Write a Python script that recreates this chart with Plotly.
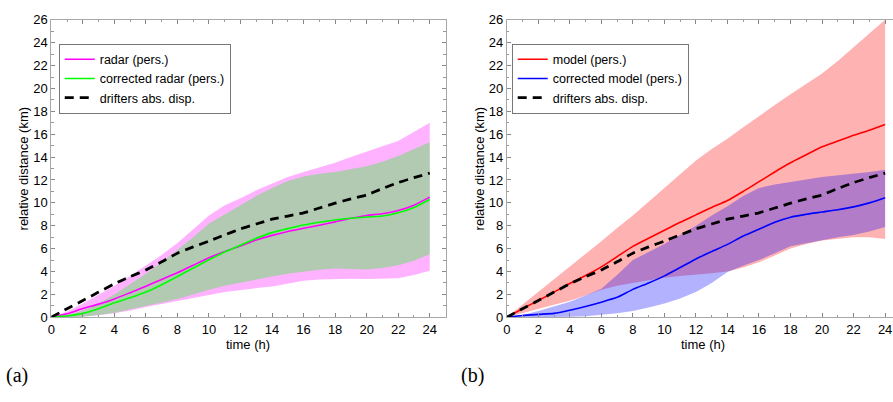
import plotly.graph_objects as go

# ---------------- data ----------------
time_h = list(range(25))

drifters = [0, 0.75, 1.46, 2.2, 2.92, 3.55, 4.13, 4.85, 5.6, 6.15, 6.66, 7.2, 7.72,
            8.15, 8.57, 8.85, 9.13, 9.55, 9.97, 10.35, 10.7, 11.25, 11.77, 12.2, 12.6]

# panel (a)
radar_mean = [0, 0.3, 0.76, 1.15, 1.6, 2.15, 2.72, 3.3, 3.9, 4.55, 5.2, 5.75, 6.24,
              6.75, 7.16, 7.5, 7.78, 8.05, 8.34, 8.65, 8.9, 9.05, 9.33, 9.8, 10.5]
radar_upper = [0, 0.5, 1.2, 1.95, 2.75, 3.6, 4.5, 5.45, 6.5, 7.7, 8.9, 9.8, 10.4,
               11.1, 11.7, 12.25, 12.7, 13.1, 13.5, 14.0, 14.5, 14.95, 15.4, 16.2, 17.0]
radar_lower = [0, 0, 0.05, 0.18, 0.35, 0.6, 0.9, 1.15, 1.46, 1.7, 1.95, 2.2, 2.4,
               2.55, 2.7, 2.95, 3.2, 3.3, 3.34, 3.36, 3.34, 3.36, 3.4, 3.7, 4.07]
corr_radar_mean = [0, 0.12, 0.34, 0.75, 1.26, 1.7, 2.2, 2.85, 3.57, 4.3, 5.03, 5.7, 6.3,
                   6.9, 7.4, 7.75, 8.06, 8.3, 8.5, 8.65, 8.76, 8.85, 9.13, 9.6, 10.3]
corr_radar_upper = [0, 0.2, 0.6, 1.2, 2.0, 2.9, 3.8, 4.8, 5.9, 7.0, 8.2, 9.0, 9.75,
                    10.6, 11.3, 11.9, 12.3, 12.55, 12.7, 12.95, 13.2, 13.6, 14.1, 14.7, 15.3]
corr_radar_lower = [0, 0, 0.05, 0.2, 0.4, 0.7, 1.0, 1.3, 1.6, 2.0, 2.4, 2.75, 3.05,
                    3.3, 3.56, 3.8, 3.98, 4.15, 4.26, 4.22, 4.18, 4.3, 4.55, 4.95, 5.5]

# panel (b)
model_mean = [0, 0.75, 1.46, 2.2, 2.95, 3.65, 4.4, 5.3, 6.2, 6.9, 7.6, 8.3, 8.95,
              9.6, 10.2, 11.0, 11.85, 12.7, 13.5, 14.2, 14.9, 15.4, 15.9, 16.35, 16.85]
model_upper = [0, 1.1, 2.2, 3.3, 4.4, 5.5, 6.65, 7.8, 8.9, 10.1, 11.3, 12.5, 13.7,
               14.7, 15.6, 16.6, 17.6, 18.55, 19.5, 20.4, 21.3, 22.4, 23.6, 24.8, 26.0]
model_lower = [0, 0.35, 0.75, 1.1, 1.45, 1.9, 2.4, 2.75, 3.0, 3.25, 3.45, 3.6, 3.75,
               3.85, 4.0, 4.35, 4.8, 5.4, 6.0, 6.4, 6.7, 6.85, 7.0, 7.0, 6.85]
corr_model_mean = [0, 0.15, 0.25, 0.34, 0.62, 0.95, 1.32, 1.74, 2.44, 3.0, 3.62, 4.35, 5.1,
                   5.75, 6.37, 7.1, 7.7, 8.3, 8.75, 9.0, 9.2, 9.4, 9.65, 10.0, 10.45]
corr_model_upper = [0, 0.2, 0.55, 0.95, 1.35, 1.9, 2.5, 3.7, 5.0, 5.7, 6.4, 7.2, 8.0,
                    8.9, 9.7, 10.6, 11.3, 11.6, 11.85, 12.05, 12.25, 12.4, 12.5, 12.7, 12.9]
corr_model_lower = [0, 0, 0, 0, 0.05, 0.1, 0.2, 0.35, 0.55, 0.85, 1.2, 1.65, 2.2,
                    3.0, 3.95, 4.5, 5.0, 5.6, 6.2, 6.5, 6.75, 7.0, 7.2, 7.5, 7.9]

x_ticks = list(range(0, 25, 2))
y_ticks = list(range(0, 27, 2))

# ---------------- figure ----------------
W, H = 893, 402
FONT = "Liberation Sans, Arial, sans-serif"
fig = go.Figure()


def band(xa, ya, upper, lower, color):
    fig.add_trace(go.Scatter(
        x=time_h + time_h[::-1], y=upper + lower[::-1], fill="toself",
        fillcolor=color, line=dict(width=0), mode="lines", hoverinfo="skip",
        showlegend=False, xaxis=xa, yaxis=ya))


def line(xa, ya, y, color, name, leg, dash="solid", width=1.6):
    fig.add_trace(go.Scatter(
        x=time_h, y=y, mode="lines", name=name, legend=leg,
        line=dict(color=color, width=width, dash=dash, shape="spline", smoothing=0.6),
        xaxis=xa, yaxis=ya))


band("x", "y", radar_upper, radar_lower, "rgba(255,0,255,0.3)")
band("x", "y", corr_radar_upper, corr_radar_lower, "rgba(0,255,0,0.3)")
line("x", "y", radar_mean, "#ff00ff", "radar (pers.)", "legend")
line("x", "y", corr_radar_mean, "#00ff00", "corrected radar (pers.)", "legend")
line("x", "y", drifters, "black", "drifters abs. disp.", "legend", dash="9px,6px", width=2.8)

band("x2", "y2", model_upper, model_lower, "rgba(255,0,0,0.3)")
band("x2", "y2", corr_model_upper, corr_model_lower, "rgba(0,0,255,0.3)")
line("x2", "y2", model_mean, "#ff0000", "model (pers.)", "legend2")
line("x2", "y2", corr_model_mean, "#0000ff", "corrected model (pers.)", "legend2")
line("x2", "y2", drifters, "black", "drifters abs. disp.", "legend2", dash="9px,6px", width=2.8)

ax_common = dict(
    showline=True, linecolor="#a8a8a8", linewidth=1, ticks="inside", ticklen=4,
    tickcolor="#888888", showgrid=False, zeroline=False,
    tickfont=dict(family=FONT, size=13, color="black"),
    minor=dict(ticks="inside", ticklen=2.5, tickcolor="#999999", dtick=1),
)

y0 = 1 - 322.3 / H
y1 = 1 - 13.3 / H
fig.update_layout(
    width=W, height=H, margin=dict(l=0, r=0, t=0, b=0),
    plot_bgcolor="white", paper_bgcolor="white",
    xaxis=dict(ax_common, domain=[47.5 / W, 443.5 / W], range=[0, 25],
               tickvals=x_ticks, mirror="ticks", anchor="y"),
    yaxis=dict(ax_common, domain=[y0, y1], range=[0, 26], tickvals=y_ticks,
               mirror="ticks", anchor="x"),
    xaxis2=dict(ax_common, domain=[505 / W, 1.0], range=[0, 24.5],
                tickvals=x_ticks, mirror="ticks", anchor="y2"),
    yaxis2=dict(ax_common, domain=[y0, y1], range=[0, 26], tickvals=y_ticks,
                mirror=False, anchor="x2"),
    legend=dict(x=55 / W, y=1 - 38 / H, xanchor="left", yanchor="top",
                bgcolor="white", bordercolor="#777777", borderwidth=1,
                font=dict(family=FONT, size=12.5, color="black"),
                tracegroupgap=0, itemwidth=30),
    legend2=dict(x=510 / W, y=1 - 38 / H, xanchor="left", yanchor="top",
                 bgcolor="white", bordercolor="#777777", borderwidth=1,
                 font=dict(family=FONT, size=12.5, color="black"),
                 tracegroupgap=0, itemwidth=30),
    showlegend=True,
)

annots = [
    dict(text="time (h)", xref="x", yref="paper", x=12.45, y=1 - 351 / H),
    dict(text="time (h)", xref="x2", yref="paper", x=12.45, y=1 - 351 / H),
    dict(text="relative distance (km)", xref="paper", yref="paper",
         x=20 / W, y=(y0 + y1) / 2, textangle=-90),
    dict(text="relative distance (km)", xref="paper", yref="paper",
         x=478 / W, y=(y0 + y1) / 2, textangle=-90),
]
for a in annots:
    fig.add_annotation(showarrow=False, xanchor="center", yanchor="middle",
                       font=dict(family=FONT, size=13, color="black"), **a)

for txt, px in [("(a)", 0), ("(b)", 457)]:
    fig.add_annotation(text=txt, xref="paper", yref="paper", x=px / W, y=1 - 383 / H,
                       xanchor="left", yanchor="middle", showarrow=False,
                       font=dict(family="Liberation Serif, DejaVu Serif, serif",
                                 size=20, color="black"))

fig.write_html("out.html")
